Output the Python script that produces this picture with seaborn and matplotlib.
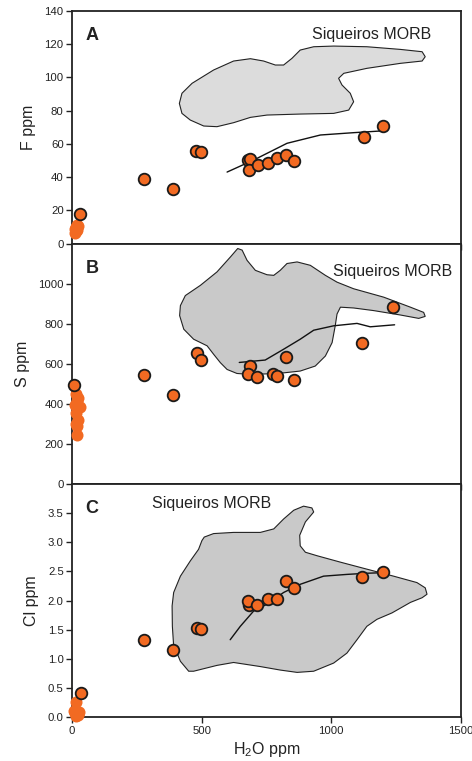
import matplotlib
matplotlib.use("Agg")
import matplotlib.pyplot as plt
import numpy as np
import pandas as pd
import seaborn as sns

# ---------------- data ----------------
# melt inclusions (H2O, F, S, Cl in ppm)
h2o = [32, 276, 388, 480, 496, 679, 685, 684, 716, 756, 789, 824, 856, 1125, 1198]
f_ppm = [17.8, 39.1, 32.9, 56.0, 55.0, 50.1, 51.1, 44.5, 47.1, 48.3, 51.5, 53.5, 49.9, 64.2, 71.0]

h2o_s = [9, 276, 388, 482, 496, 688, 677, 715, 774, 790, 825, 856, 1117, 1238]
s_ppm = [492, 545, 445, 653, 621, 587, 549, 535, 547, 539, 634, 518, 703, 883]

h2o_cl = [33, 276, 389, 482, 497, 684, 677, 715, 756, 790, 825, 856, 1118, 1199]
cl_ppm = [0.42, 1.32, 1.15, 1.53, 1.51, 1.93, 2.00, 1.93, 2.02, 2.02, 2.34, 2.21, 2.41, 2.49]

# degassed glasses near zero water
h2o_dg_f = [12, 18, 24, 14, 10, 20, 16]
f_dg = [6.5, 8.0, 10.5, 10.0, 9.0, 11.0, 7.5]
h2o_dg_s = [16, 20, 31, 14, 24, 16, 20, 18, 25, 12]
s_dg = [447, 413, 385, 356, 321, 300, 288, 246, 430, 395]
h2o_dg_cl = [14, 10, 22, 28, 16, 8, 22]
cl_dg = [0.27, 0.08, 0.05, 0.09, 0.02, 0.10, 0.04]

# degassing model curves
model_h2o_f = [598, 700, 829, 958, 1086, 1189]
model_f = [43.1, 50.3, 60.4, 65.4, 66.8, 67.8]
model_h2o_s = [645, 745, 816, 880, 932, 1009, 1099, 1150, 1244]
model_s = [607, 619, 673, 723, 768, 790, 802, 785, 795]
model_h2o_cl = [610, 649, 700, 752, 816, 880, 970, 1060, 1137, 1202]
model_cl = [1.33, 1.56, 1.82, 1.94, 2.14, 2.28, 2.42, 2.45, 2.47, 2.48]

# Siqueiros MORB fields
morb_f_h2o = [414, 424, 463, 546, 623, 688, 739, 784, 816, 848, 880, 932, 1009, 1137,
              1266, 1350, 1362, 1350, 1266, 1137, 1048, 1028, 1041, 1073, 1086, 1067,
              1009, 880, 752, 688, 623, 559, 508, 456, 424]
morb_f = [84.4, 90.5, 96.5, 104.5, 109.9, 111.3, 109.9, 107.5, 107.5, 111.5, 116.5,
          118.5, 118.9, 118.5, 116.9, 115.5, 112.5, 109.9, 108.5, 105.5, 102.5, 99.5,
          95.5, 90.5, 85.4, 80.4, 78.4, 78.0, 77.4, 76.0, 72.8, 70.4, 70.8, 74.4, 78.4]

morb_s_h2o = [418, 437, 495, 559, 611, 639, 656, 675, 707, 752, 778, 803, 829, 868, 919,
              977, 1022, 1086, 1202, 1305, 1356, 1362, 1337, 1266, 1163, 1086, 1035, 1022,
              1015, 1003, 977, 938, 880, 816, 752, 688, 636, 598, 572, 546, 521, 469,
              431, 415]
morb_s = [891, 941, 992, 1059, 1134, 1176, 1168, 1117, 1067, 1045, 1042, 1067, 1101,
          1109, 1092, 1042, 1008, 975, 933, 883, 857, 837, 827, 844, 866, 879, 883, 849,
          790, 706, 639, 589, 564, 555, 550, 547, 552, 572, 606, 648, 690, 723, 773, 841]

morb_cl_h2o = [392, 387, 386, 392, 418, 456, 488, 501, 510, 546, 623, 726, 778, 816,
               855, 893, 925, 932, 900, 878, 880, 900, 945, 1035, 1137, 1240, 1330, 1362,
               1369, 1350, 1305, 1234, 1176, 1137, 1099, 1060, 1009, 932, 868, 803, 726,
               623, 559, 469, 450, 418, 405]
morb_cl = [1.22, 1.56, 1.91, 2.14, 2.42, 2.68, 2.88, 3.03, 3.09, 3.15, 3.17, 3.17, 3.23,
           3.40, 3.55, 3.62, 3.59, 3.52, 3.35, 3.12, 2.94, 2.83, 2.77, 2.66, 2.54, 2.42,
           2.31, 2.22, 2.11, 2.05, 1.97, 1.79, 1.68, 1.56, 1.33, 1.10, 0.93, 0.79, 0.77,
           0.81, 0.87, 0.94, 0.89, 0.79, 0.79, 0.96, 1.10]

f_ticks = [0, 20, 40, 60, 80, 100, 120, 140]
s_ticks = [0, 200, 400, 600, 800, 1000]
cl_ticks = [0.0, 0.5, 1.0, 1.5, 2.0, 2.5, 3.0, 3.5]
x_ticks = [0, 500, 1000, 1500]

# ---------------- style ----------------
sns.set_theme(style="ticks")
plt.rcParams["font.family"] = ["Liberation Sans", "DejaVu Sans"]
plt.rcParams["mathtext.default"] = "regular"
plt.rcParams["axes.edgecolor"] = "#222222"
plt.rcParams["axes.linewidth"] = 1.3

ORANGE = "#F26A22"
FIG_W, FIG_H = 472, 761

fig = plt.figure(figsize=(FIG_W / 100, FIG_H / 100), dpi=100)


def px_axes(left, top, right, bottom):
    return fig.add_axes([left / FIG_W, 1 - bottom / FIG_H,
                         (right - left) / FIG_W, (bottom - top) / FIG_H])


axA = px_axes(72, 11, 461, 243.7)
axB = px_axes(72, 243.7, 461, 484)
axC = px_axes(72, 484, 461, 717.3)

panels = [
    (axA, morb_f_h2o, morb_f, "#dcdcdc", h2o_dg_f, f_dg, h2o, f_ppm,
     model_h2o_f, model_f, (0, 140), f_ticks, "F ppm", "A"),
    (axB, morb_s_h2o, morb_s, "#c9c9c9", h2o_dg_s, s_dg, h2o_s, s_ppm,
     model_h2o_s, model_s, (0, 1200), s_ticks, "S ppm", "B"),
    (axC, morb_cl_h2o, morb_cl, "#c9c9c9", h2o_dg_cl, cl_dg, h2o_cl, cl_ppm,
     model_h2o_cl, model_cl, (0, 4.0), cl_ticks, "Cl ppm", "C"),
]

for (ax, mx, my, fill, dgx, dgy, px, py, lx, ly, ylim, yt, ylab, letter) in panels:
    ax.fill(mx, my, facecolor=fill, edgecolor="#222222", linewidth=0.8, zorder=1)
    sns.lineplot(x=lx, y=ly, ax=ax, sort=False, color="#111111", linewidth=1.0,
                 zorder=2)
    sns.scatterplot(x=dgx, y=dgy, ax=ax, color=ORANGE, s=75, linewidth=0,
                    zorder=3, clip_on=False)
    sns.scatterplot(x=px, y=py, ax=ax, color=ORANGE, s=70, edgecolor="#1a1a1a",
                    linewidth=1.3, zorder=4, clip_on=False)
    ax.set_xlim(0, 1500)
    ax.set_ylim(*ylim)
    ax.set_yticks(yt)
    ax.set_xticks(x_ticks)
    ax.set_ylabel(ylab, fontsize=11.5, labelpad=6, color="#222222")
    ax.tick_params(direction="out", length=4, width=1.0, colors="#222222",
                   labelsize=8.2, pad=2)
    ax.text(0.035, 0.895, letter, transform=ax.transAxes, fontsize=13,
            fontweight="bold", color="#222222", va="center", ha="left")

axA.set_yticklabels([str(t) for t in f_ticks])
axB.set_yticklabels([str(t) for t in s_ticks])
axC.set_yticklabels([f"{t:.1f}" for t in cl_ticks])
axA.set_xticklabels([])
axB.set_xticklabels([])
axC.set_xticklabels([str(t) for t in x_ticks])
axC.set_xlabel("H$_2$O ppm", fontsize=11.5, color="#222222", labelpad=3)

axA.text(925, 125.6, "Siqueiros MORB", fontsize=11.5, color="#222222", va="center")
axB.text(1006, 1060, "Siqueiros MORB", fontsize=11.5, color="#222222", va="center")
axC.text(308, 3.66, "Siqueiros MORB", fontsize=11.5, color="#222222", va="center")

fig.savefig("out.png", dpi=100)
